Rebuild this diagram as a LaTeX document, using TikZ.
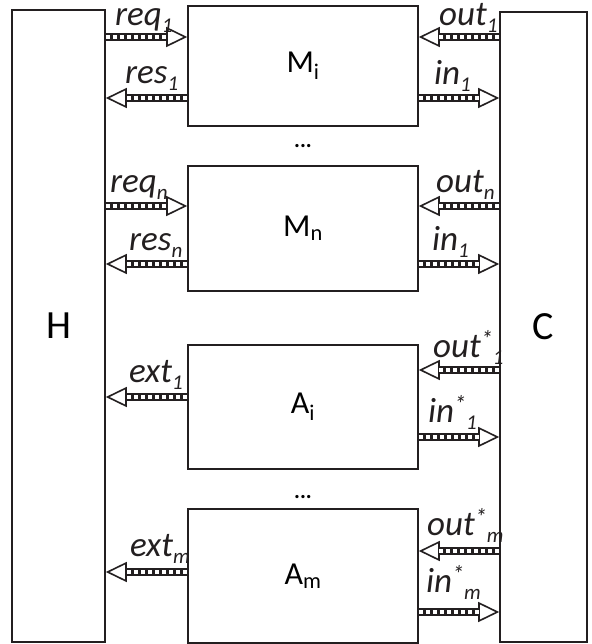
\documentclass[tikz,border=0pt]{standalone}
\usepackage{fontspec}
\setmainfont{Carlito}
\usetikzlibrary{arrows.meta}
\definecolor{ink}{HTML}{231F20}
\newcommand\sbx[1]{\raisebox{-7pt}{\fontsize{21}{21}\selectfont #1}}
\newcommand\stx{\raisebox{10pt}{\fontsize{24}{24}\selectfont *}}
\begin{document}
\begin{tikzpicture}[x=1pt,y=-1pt,
  box/.style={draw=ink, line width=1.6pt, fill=white, inner sep=0, font=\fontsize{32}{33}\selectfont},
  side/.style={box, font=\fontsize{40}{41}\selectfont},
  lab/.style={anchor=base west, inner sep=0, text=ink, font=\fontsize{35}{36}\selectfont\itshape},
  harrow/.style={draw=ink, line width=8.5pt,
    -{Triangle[length=21pt,width=20pt,line width=1.6pt,fill=white]},
    postaction={draw=white, line width=3.4pt, dash pattern=on 4.2pt off 2.8pt, shorten >=18pt, -}},
  dots/.style={inner sep=0, font=\fontsize{22}{22}\selectfont\bfseries}]
\useasboundingbox (0,0) rectangle (591,644);
% side boxes
\node[side, minimum width=93pt, minimum height=632pt] (H) at (58.5,326) {H};
\node[side, minimum width=87pt, minimum height=630pt] (C) at (543.5,327) {C};
% modules
\node[box, minimum width=230pt, minimum height=120pt] (Mi) at (303,66) {M\textsubscript{i}};
\node[box, minimum width=230pt, minimum height=125pt] (Mn) at (303,228.5) {M\textsubscript{n}};
\node[box, minimum width=230pt, minimum height=124pt] (Ai) at (303,407) {A\textsubscript{i}};
\node[box, minimum width=230pt, minimum height=134pt] (Am) at (303,576) {A\textsubscript{m}};
\node[dots] (d1) at (303,146) {...};
\node[dots] (d2) at (303,497) {...};
% arrow rows
\coordinate (y1) at (0,37);
\coordinate (y2) at (0,98);
\coordinate (y3) at (0,206);
\coordinate (y4) at (0,264);
\coordinate (y5) at (0,370);
\coordinate (y6) at (0,397);
\coordinate (y7) at (0,437);
\coordinate (y8) at (0,551);
\coordinate (y9) at (0,572);
\coordinate (y10) at (0,612);
% H side
\draw[harrow] (H.east |- y1) -- (Mi.west |- y1);
\draw[harrow] (Mi.west |- y2) -- (H.east |- y2);
\draw[harrow] (H.east |- y3) -- (Mn.west |- y3);
\draw[harrow] (Mn.west |- y4) -- (H.east |- y4);
\draw[harrow] (Ai.west |- y6) -- (H.east |- y6);
\draw[harrow] (Am.west |- y9) -- (H.east |- y9);
% C side
\draw[harrow] (C.west |- y1) -- (Mi.east |- y1);
\draw[harrow] (Mi.east |- y2) -- (C.west |- y2);
\draw[harrow] (C.west |- y3) -- (Mn.east |- y3);
\draw[harrow] (Mn.east |- y4) -- (C.west |- y4);
\draw[harrow] (C.west |- y5) -- (Ai.east |- y5);
\draw[harrow] (Ai.east |- y7) -- (C.west |- y7);
\draw[harrow] (C.west |- y8) -- (Am.east |- y8);
\draw[harrow] (Am.east |- y10) -- (C.west |- y10);
% labels
\node[lab] (lreq1) at (115,26) {req\sbx{1}};
\node[lab] (lres1) at (125,84) {res\sbx{1}};
\node[lab] (lreqn) at (110,193) {req\sbx{n}};
\node[lab] (lresn) at (129,250) {res\sbx{n}};
\node[lab] (lext1) at (129,382) {ext\sbx{1}};
\node[lab] (lextm) at (130,556) {ext\sbx{m}};
\node[lab] (lout1) at (439,26) {out\sbx{1}};
\node[lab] (lin1) at (434,85) {in\sbx{1}};
\node[lab] (loutn) at (436,193) {out\sbx{n}};
\node[lab] (linn) at (432,250) {in\sbx{1}};
\node[lab] (louts1) at (433,357) {out\stx\sbx{1}};
\node[lab] (lins1) at (428,422) {in\stx\sbx{1}};
\node[lab] (loutsm) at (427,535) {out\stx\sbx{m}};
\node[lab] (linsm) at (426,592) {in\stx\sbx{m}};
\end{tikzpicture}
\end{document}
